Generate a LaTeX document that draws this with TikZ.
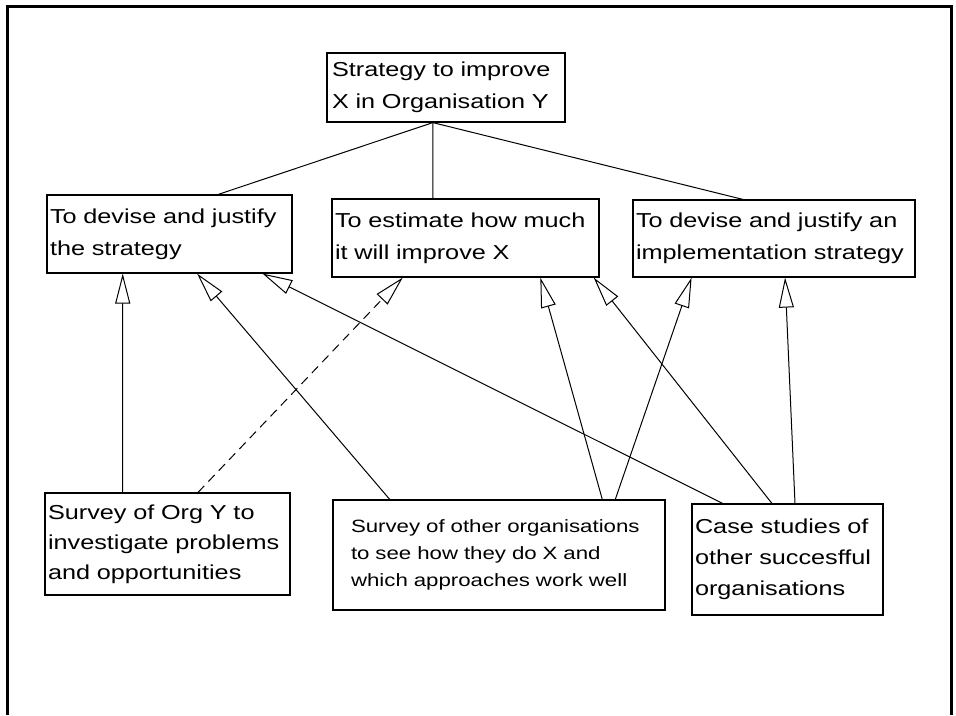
\documentclass[tikz,border=0pt]{standalone}
\usepackage{fontspec}
\setmainfont{Liberation Sans}[FakeStretch=1.25]
\usetikzlibrary{arrows.meta,calc}
\begin{document}
\begin{tikzpicture}[x=1pt,y=-1pt,
  box/.style={draw,line width=1.2pt,inner sep=0pt,align=left,font=\fontsize{20.2}{32}\selectfont},
  link/.style={line width=1pt},
  arr/.style={line width=1pt,-{Triangle[open,length=30pt,width=15pt,line width=1pt]}},
  dashlink/.style={arr,dash pattern=on 9pt off 6pt},
]
\useasboundingbox (0,0) rectangle (956,715);
\draw[line width=3pt] (7,715) -- (7,6) -- (951,6) -- (951,715);

\node[box,minimum width=238pt,minimum height=69pt,text width=228pt] (T) at (446,87.5) {Strategy to improve\\X in Organisation Y};
\node[box,minimum width=245pt,minimum height=78pt,text width=239pt] (A) at (169.5,234) {To devise and justify\\the strategy};
\node[box,minimum width=267pt,minimum height=78pt,text width=261pt] (B) at (465.5,238) {To estimate how much\\it will improve X};
\node[box,minimum width=282pt,minimum height=77pt,text width=276pt] (C) at (774,238.5) {To devise and justify an\\implementation strategy};
\node[box,font=\fontsize{20.2}{30}\selectfont,minimum width=245pt,minimum height=102pt,text width=239pt] (D) at (167.5,544) {Survey of Org Y to\\investigate problems\\and opportunities};
\node[box,font=\fontsize{17.8}{27}\selectfont,minimum width=332pt,minimum height=110pt,text width=296pt] (E) at (499,555) {Survey of other organisations\\to see how they do X and\\which approaches work well};
\node[box,font=\fontsize{20.2}{31}\selectfont,minimum width=191pt,minimum height=111pt,text width=185pt] (F) at (787.5,559.5) {Case studies of\\other succesfful\\organisations};

% hierarchy links
\draw[link] ($(T.south west)!0.445!(T.south east)$) -- ($(A.north west)!0.698!(A.north east)$);
\draw[link] ($(T.south west)!0.445!(T.south east)$) -- ($(B.north west)!0.378!(B.north east)$);
\draw[link] ($(T.south west)!0.445!(T.south east)$) -- ($(C.north west)!0.390!(C.north east)$);

% contribution arrows
\draw[arr] ($(D.north west)!0.318!(D.north east)$) -- ($(A.south west)!0.310!(A.south east)$);
\draw[dashlink] ($(D.north west)!0.624!(D.north east)$) -- ($(B.south west)!0.266!(B.south east)$);
\draw[arr] ($(E.north west)!0.172!(E.north east)$) -- ($(A.south west)!0.612!(A.south east)$);
\draw[arr] ($(F.north west)!0.162!(F.north east)$) -- ($(A.south west)!0.878!(A.south east)$);
\draw[arr] ($(E.north west)!0.810!(E.north east)$) -- ($(B.south west)!0.779!(B.south east)$);
\draw[arr] ($(E.north west)!0.849!(E.north east)$) -- ($(C.south west)!0.209!(C.south east)$);
\draw[arr] ($(F.north west)!0.419!(F.north east)$) -- ($(B.south west)!0.978!(B.south east)$);
\draw[arr] ($(F.north west)!0.539!(F.north east)$) -- ($(C.south west)!0.539!(C.south east)$);
\end{tikzpicture}
\end{document}
